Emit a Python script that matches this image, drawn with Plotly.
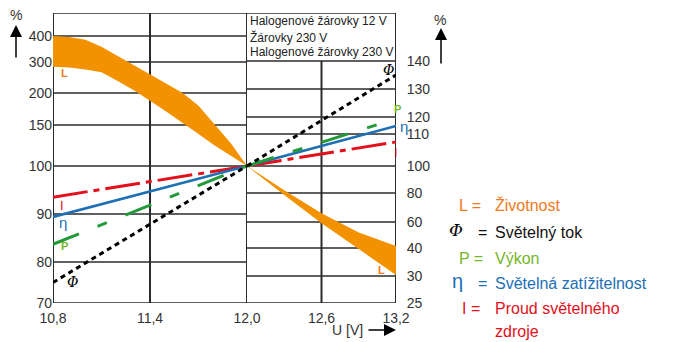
import numpy as np
import plotly.graph_objects as go

# ---------------- data ----------------
LEFT_TICKS = [70, 80, 90, 100, 150, 200, 300, 400]
RIGHT_TICKS = [25, 30, 40, 60, 80, 100, 110, 120, 130, 140]
X_LEFT_TICKS = [10.8, 11.4, 12.0]
X_RIGHT_TICKS = [12.6, 13.2]
X_LEFT_LABELS = ["10,8", "11,4", "12,0"]
X_RIGHT_LABELS = ["12,6", "13,2"]

V_L = [10.8, 10.9, 11.0, 11.1, 11.2, 11.3, 11.4, 11.5, 11.6, 11.7, 11.8, 11.9, 12.0]
L_UPPER_LEFT = [400, 396, 386, 359, 323, 290, 261, 231, 201, 180, 151.5, 127.7, 100]
L_LOWER_LEFT = [285, 282, 276, 267, 239, 209, 188, 171, 154, 139, 125, 112, 100]
V_R = [12.0, 12.3, 12.6, 12.9, 13.2]
L_UPPER_RIGHT = [100, 82, 66, 52, 41.5]
L_LOWER_RIGHT = [100, 78.6, 59, 39.6, 30.4]

V_LINE_L = [10.8, 12.0]
V_LINE_R = [12.0, 13.2]
I_LEFT = [93.5, 100]
ETA_LEFT = [89.4, 100]
P_LEFT = [83.7, 100]
PHI_LEFT = [75, 100]
I_RIGHT = [100, 107.5]
ETA_RIGHT = [100, 114.7]
P_RIGHT = [100, 119]
PHI_RIGHT = [100, 135]

# ---------------- scales (non-uniform, from the drawing) ----------------
LEFT_POS = [0, 41, 89, 137, 178, 210, 241, 267]
RIGHT_POS = [0, 27, 55, 81, 110, 137, 169, 186, 214, 242]
Y_TOP = 290


def yl(v):
    return list(np.interp(v, LEFT_TICKS, LEFT_POS))


def yr(v):
    return list(np.interp(v, RIGHT_TICKS, RIGHT_POS))


ORANGE = "#f39200"
RED = "#e3101b"
BLUE = "#1d6fb6"
GREEN = "#23993a"
GREEN_T = "#76b52a"
ORANGE_T = "#ef7a22"
GRID = "#2b2b2b"
TXT = "#333333"
FONT = "Liberation Sans, Arial, sans-serif"

W, H = 678, 342
ML, MR, MT, MB = 53, 282, 13, 39
PW = W - ML - MR
PH = H - MT - MB
D = 194 / PW


def pp(px, py):
    return (px - ML) / PW, (H - MB - py) / PH


fig = go.Figure()

# L band
fig.add_trace(go.Scatter(x=V_L + V_L[::-1], y=yl(L_UPPER_LEFT) + yl(L_LOWER_LEFT)[::-1],
                         fill="toself", fillcolor=ORANGE, mode="lines", line=dict(width=0),
                         xaxis="x", yaxis="y", hoverinfo="skip"))
fig.add_trace(go.Scatter(x=V_R + V_R[::-1], y=yr(L_UPPER_RIGHT) + yr(L_LOWER_RIGHT)[::-1],
                         fill="toself", fillcolor=ORANGE, mode="lines", line=dict(width=0),
                         xaxis="x2", yaxis="y2", hoverinfo="skip"))

styles = [
    (I_LEFT, I_RIGHT, RED, 3, "35px,6px,6px,6px"),
    (ETA_LEFT, ETA_RIGHT, BLUE, 2.6, "solid"),
    (P_LEFT, P_RIGHT, GREEN, 3, "28px,20px,10px,20px"),
    (PHI_LEFT, PHI_RIGHT, "#000000", 3, "5px,4px"),
]
for left, right, col, w, dash in styles:
    fig.add_trace(go.Scatter(x=V_LINE_L, y=yl(left), mode="lines",
                             line=dict(color=col, width=w, dash=dash), xaxis="x", yaxis="y"))
    fig.add_trace(go.Scatter(x=V_LINE_R, y=yr(right), mode="lines",
                             line=dict(color=col, width=w, dash=dash), xaxis="x2", yaxis="y2"))

shapes = []
for t in LEFT_TICKS[1:]:
    if t == 100:
        continue
    shapes.append(dict(type="line", xref="x", yref="y", x0=10.8, x1=12.0,
                       y0=yl([t])[0], y1=yl([t])[0], line=dict(color=GRID, width=1.5), layer="below"))
for t in RIGHT_TICKS[1:]:
    if t == 100:
        continue
    shapes.append(dict(type="line", xref="x2", yref="y2", x0=12.0, x1=13.2,
                       y0=yr([t])[0], y1=yr([t])[0], line=dict(color=GRID, width=1.5), layer="below"))
shapes.append(dict(type="line", xref="paper", yref="y", x0=0, x1=1,
                   y0=yl([100])[0], y1=yl([100])[0], line=dict(color=GRID, width=1.5), layer="below"))
for yv in [0, Y_TOP]:
    shapes.append(dict(type="line", xref="paper", yref="y", x0=0, x1=1, y0=yv, y1=yv,
                       line=dict(color=GRID, width=1.5), layer="below"))
for xv in X_LEFT_TICKS:
    shapes.append(dict(type="line", xref="x", yref="y", x0=xv, x1=xv, y0=0, y1=Y_TOP,
                       line=dict(color=GRID, width=2), layer="below"))
shapes.append(dict(type="line", xref="x2", yref="y2", x0=12.6, x1=12.6, y0=0, y1=yr([140])[0],
                   line=dict(color=GRID, width=2), layer="below"))
shapes.append(dict(type="line", xref="x2", yref="y2", x0=13.2, x1=13.2, y0=0, y1=Y_TOP,
                   line=dict(color=GRID, width=2), layer="below"))

ann = []


def text(px, py, s, size=14, color=TXT, xanchor="center", family=FONT):
    x, y = pp(px, py)
    ann.append(dict(x=x, y=y, xref="paper", yref="paper", text=s, showarrow=False,
                    xanchor=xanchor, yanchor="middle", font=dict(size=size, color=color, family=family)))


def arrow(hx, hy, tx, ty):
    x, y = pp(hx, hy)
    ann.append(dict(x=x, y=y, xref="paper", yref="paper", text="", showarrow=True,
                    ax=tx - hx, ay=ty - hy, arrowhead=2, arrowsize=1.6, arrowwidth=1.5,
                    arrowcolor="#000000"))


text(248, 21, "Halogenové žárovky 12 V", 12, "#222222", "left")
text(248, 37, "Žárovky 230 V", 12, "#222222", "left")
text(248, 52, "Halogenové žárovky 230 V", 12, "#222222", "left")

text(16, 15, "%", 14, TXT)
arrow(16, 25, 16, 59)
text(440, 20, "%", 14, TXT)
arrow(441, 28, 441, 65)
text(347, 330, "U [V]", 14, TXT)
arrow(396, 330, 367, 330)

SERIF = "DejaVu Serif, serif"
text(64, 73, "<b>L</b>", 11, ORANGE_T)
text(381, 270, "<b>L</b>", 11, ORANGE_T)
text(62, 205, "I", 13, RED)
text(63, 222, "η", 15, BLUE)
text(64, 246, "<b>P</b>", 11, GREEN_T)
text(72, 282, "<i>Φ</i>", 14, "#000000", family=SERIF)
text(388, 70, "<i>Φ</i>", 14, "#000000", family=SERIF)
text(397, 109, "<b>P</b>", 11, GREEN_T)
text(404, 126, "η", 15, BLUE)
text(396, 152, "I", 13, RED)

text(457, 205, "L =", 16, ORANGE_T, "left")
text(493, 205, "Životnost", 16, ORANGE_T, "left")
text(456, 230, "<i>Φ</i>", 17, "#000000", family=SERIF)
text(476, 232, "=", 16, "#111111", "left")
text(493, 232, "Světelný tok", 16, "#111111", "left")
text(457, 258, "P =", 16, GREEN_T, "left")
text(493, 258, "Výkon", 16, GREEN_T, "left")
text(457, 281, "η", 20, BLUE)
text(476, 283, "=", 16, BLUE, "left")
text(493, 283, "Světelná zatížitelnost", 16, BLUE, "left")
text(460, 308, "I =", 16, RED, "left")
text(493, 308, "Proud světelného", 16, RED, "left")
text(493, 331, "zdroje", 16, RED, "left")

axis_font = dict(size=14, color=TXT, family=FONT)
common = dict(showgrid=False, zeroline=False, showline=False, tickfont=axis_font, automargin=False)
fig.update_layout(
    width=W, height=H, margin=dict(l=ML, r=MR, t=MT, b=MB, autoexpand=False),
    paper_bgcolor="white", plot_bgcolor="rgba(0,0,0,0)", showlegend=False,
    xaxis=dict(domain=[0, D], range=[10.8, 12.0], tickvals=X_LEFT_TICKS, ticktext=X_LEFT_LABELS,
               ticks="outside", ticklen=2, tickcolor="rgba(0,0,0,0)", anchor="y", **common),
    xaxis2=dict(domain=[D, 1], range=[12.0, 13.2], tickvals=X_RIGHT_TICKS, ticktext=X_RIGHT_LABELS,
                ticks="outside", ticklen=2, tickcolor="rgba(0,0,0,0)", anchor="y2", **common),
    yaxis=dict(range=[0, Y_TOP], tickvals=LEFT_POS, ticktext=[str(t) for t in LEFT_TICKS],
               anchor="x", **common),
    yaxis2=dict(range=[0, Y_TOP], tickvals=RIGHT_POS, ticktext=[str(t) for t in RIGHT_TICKS],
                anchor="x2", side="right", ticks="outside", ticklen=7,
                tickcolor="rgba(0,0,0,0)", **common),
    shapes=shapes, annotations=ann,
)

fig.write_html("out.html", config={"displayModeBar": False},
               post_script="document.body.style.margin='0px';")
